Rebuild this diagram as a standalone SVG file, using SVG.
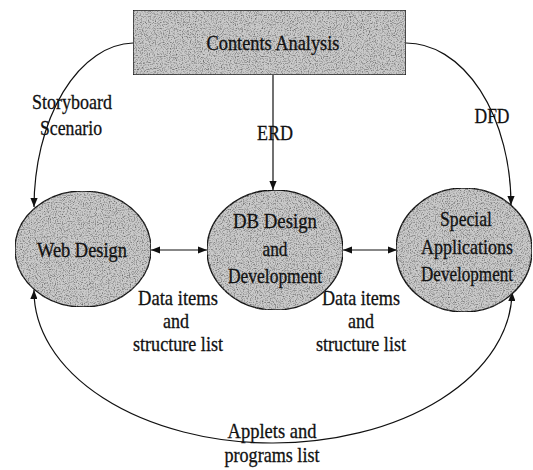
<svg xmlns="http://www.w3.org/2000/svg" width="533" height="470" viewBox="0 0 533 470">
  <style>
    .shape { fill: #cacaca; stroke: #111; stroke-width: 1.4; filter: url(#grain); }
    .wire { fill: none; stroke: #111; stroke-width: 1.2; }
    .lbl { font-family: "Liberation Serif", "Times New Roman", serif; font-size: 21px; fill: #111; stroke: #111; stroke-width: 0.3; text-anchor: middle; }
  </style>
  <defs>
    <!-- speckled grey texture used inside the boxes and bubbles -->
    <filter id="grain" x="0" y="0" width="100%" height="100%" color-interpolation-filters="sRGB">
      <feTurbulence type="fractalNoise" baseFrequency="0.85" numOctaves="2" seed="7" result="noise"/>
      <feColorMatrix in="noise" type="matrix"
        values="0 0 0 0 0.4
                0 0 0 0 0.4
                0 0 0 0 0.4
                0 0 0 2.4 -1.1" result="specks"/>
      <feComposite in="specks" in2="SourceGraphic" operator="in" result="clipped"/>
      <feMerge>
        <feMergeNode in="SourceGraphic"/>
        <feMergeNode in="clipped"/>
      </feMerge>
    </filter>
    <marker id="arr" viewBox="0 0 10 8" refX="10" refY="4" markerWidth="9" markerHeight="7.2"
            markerUnits="userSpaceOnUse" orient="auto-start-reverse">
      <path d="M0,0 L10,4 L0,8 z" fill="#111"/>
    </marker>
  </defs>

  <rect width="533" height="470" fill="#fff"/>

  <!-- connectors -->
  <g id="connectors">
    <path class="wire" d="M133,43 A101,165 0 0 0 34,207" marker-end="url(#arr)"/>
    <path class="wire" d="M273,75 L273,190" marker-end="url(#arr)"/>
    <path class="wire" d="M406,43 A105,162 0 0 1 511,205" marker-end="url(#arr)"/>
    <path class="wire" d="M151,250 L207,250" marker-start="url(#arr)" marker-end="url(#arr)"/>
    <path class="wire" d="M343,250 L397,250" marker-start="url(#arr)" marker-end="url(#arr)"/>
    <path class="wire" d="M34,290 A239,152 0 0 0 512,292" marker-start="url(#arr)" marker-end="url(#arr)"/>

    <text class="lbl" x="72" y="109" textLength="80" lengthAdjust="spacingAndGlyphs">Storyboard</text>
    <text class="lbl" x="71" y="135" textLength="62" lengthAdjust="spacingAndGlyphs">Scenario</text>
    <text class="lbl" x="275" y="140" textLength="36" lengthAdjust="spacingAndGlyphs">ERD</text>
    <text class="lbl" x="492" y="123" textLength="35" lengthAdjust="spacingAndGlyphs">DFD</text>

    <text class="lbl" x="178" y="305" textLength="80" lengthAdjust="spacingAndGlyphs">Data items</text>
    <text class="lbl" x="176" y="328" textLength="26" lengthAdjust="spacingAndGlyphs">and</text>
    <text class="lbl" x="178" y="351" textLength="90" lengthAdjust="spacingAndGlyphs">structure list</text>

    <text class="lbl" x="361" y="305" textLength="78" lengthAdjust="spacingAndGlyphs">Data items</text>
    <text class="lbl" x="361" y="328" textLength="26" lengthAdjust="spacingAndGlyphs">and</text>
    <text class="lbl" x="361" y="351" textLength="90" lengthAdjust="spacingAndGlyphs">structure list</text>

    <text class="lbl" x="272" y="438" textLength="89" lengthAdjust="spacingAndGlyphs">Applets  and</text>
    <text class="lbl" x="272" y="462" textLength="95" lengthAdjust="spacingAndGlyphs">programs list</text>
  </g>

  <!-- nodes -->
  <g id="contents-analysis">
    <rect class="shape" x="133" y="10" width="273" height="65"/>
    <text class="lbl" x="273" y="50" textLength="133" lengthAdjust="spacingAndGlyphs">Contents Analysis</text>
  </g>

  <g id="web-design">
    <ellipse class="shape" cx="83" cy="249" rx="68" ry="58"/>
    <text class="lbl" x="82" y="257" textLength="90" lengthAdjust="spacingAndGlyphs">Web Design</text>
  </g>

  <g id="db-design">
    <ellipse class="shape" cx="275" cy="250" rx="68" ry="60"/>
    <text class="lbl" x="275" y="228" textLength="84" lengthAdjust="spacingAndGlyphs">DB Design</text>
    <text class="lbl" x="275" y="256" textLength="25" lengthAdjust="spacingAndGlyphs">and</text>
    <text class="lbl" x="275" y="283" textLength="94" lengthAdjust="spacingAndGlyphs">Development</text>
  </g>

  <g id="special-applications">
    <ellipse class="shape" cx="464" cy="250" rx="68" ry="62"/>
    <text class="lbl" x="466" y="226" textLength="52" lengthAdjust="spacingAndGlyphs">Special</text>
    <text class="lbl" x="467" y="254" textLength="92" lengthAdjust="spacingAndGlyphs">Applications</text>
    <text class="lbl" x="467" y="281" textLength="92" lengthAdjust="spacingAndGlyphs">Development</text>
  </g>
</svg>
